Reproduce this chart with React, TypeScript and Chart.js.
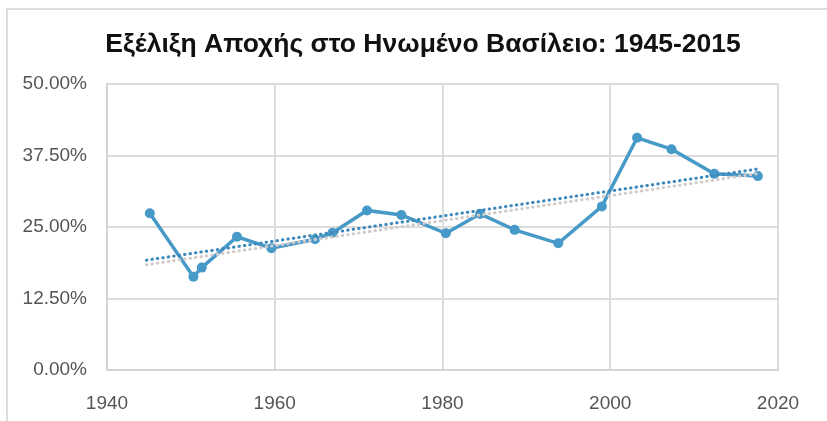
import React, { useEffect, useRef } from "react";
import { Chart, registerables } from "chart.js";

Chart.register(...registerables);

const TITLE = "Εξέλιξη Αποχής στο Ηνωμένο Βασίλειο: 1945-2015";

// x positions of the points
const pointX = [
  1945.1, 1950.3, 1951.3, 1955.5, 1959.6, 1964.8, 1966.9, 1971.0, 1975.1,
  1980.4, 1984.5, 1988.6, 1993.8, 1999.0, 2003.2, 2007.3, 2012.4, 2017.6,
];
// abstention (%)
const abstention = [
  27.4, 16.3, 17.9, 23.3, 21.3, 22.85, 24.0, 27.9, 27.1,
  23.9, 27.3, 24.5, 22.15, 28.6, 40.6, 38.6, 34.3, 33.9,
];
// trend lines: [start, end]
const trendX = [1944.7, 2017.4];
const trendBlue = [19.2, 35.1];
const trendGray = [18.4, 34.3];

const yTicks = [0, 12.5, 25, 37.5, 50];
const xTicks = [1940, 1960, 1980, 2000, 2020];

const FONT = "'Liberation Sans', Arial, Helvetica, sans-serif";

const titlePlugin = {
  id: "customTitle",
  afterDraw(chart: any) {
    const ctx = chart.ctx;
    ctx.save();
    ctx.font = `bold 26.5px ${FONT}`;
    ctx.fillStyle = "#111";
    ctx.textAlign = "center";
    ctx.textBaseline = "middle";
    ctx.fillText(TITLE, 423, 45);
    ctx.restore();
  },
};

export default function App() {
  const ref = useRef<HTMLCanvasElement | null>(null);

  useEffect(() => {
    if (!ref.current) return;
    const pts = pointX.map((x, i) => ({ x, y: abstention[i] }));
    const tb = trendX.map((x, i) => ({ x, y: trendBlue[i] }));
    const tg = trendX.map((x, i) => ({ x, y: trendGray[i] }));
    const chart = new Chart(ref.current, {
      type: "scatter",
      data: {
        datasets: [
          {
            data: tg,
            showLine: true,
            borderColor: "#d2cbcb",
            borderWidth: 3,
            borderDash: [0.5, 5],
            borderCapStyle: "round",
            pointRadius: 0,
          },
          {
            data: tb,
            showLine: true,
            borderColor: "#3d88bb",
            borderWidth: 3,
            borderDash: [0.5, 5],
            borderCapStyle: "round",
            pointRadius: 0,
          },
          {
            data: pts,
            showLine: true,
            borderColor: "#4799c8",
            backgroundColor: "#4799c8",
            borderWidth: 3.5,
            pointRadius: 5,
            pointBorderWidth: 0,
          },
        ],
      },
      plugins: [titlePlugin],
      options: {
        animation: false,
        responsive: false,
        layout: { padding: { left: 0, right: 49, top: 84, bottom: 0 } },
        plugins: {
          legend: { display: false },
          tooltip: { enabled: false },
          title: { display: false },
        },
        scales: {
          x: {
            type: "linear",
            min: 1940,
            max: 2020,
            afterFit: (s: any) => {
              s.height = 51;
            },
            afterBuildTicks: (s: any) => {
              s.ticks = xTicks.map((v) => ({ value: v }));
            },
            ticks: {
              color: "#555",
              font: { family: FONT, size: 19 },
              padding: 22,
              callback: (v: any) => String(v),
            },
            grid: { color: "#dcdcdc", lineWidth: 2, drawTicks: false },
            border: { color: "#d4d4d4", width: 2 },
          },
          y: {
            min: 0,
            max: 50,
            afterFit: (s: any) => {
              s.width = 107;
            },
            afterBuildTicks: (s: any) => {
              s.ticks = yTicks.map((v) => ({ value: v }));
            },
            ticks: {
              color: "#555",
              font: { family: FONT, size: 19 },
              padding: 20,
              callback: (v: any) => Number(v).toFixed(2) + "%",
            },
            grid: { color: "#dcdcdc", lineWidth: 2, drawTicks: false },
            border: { color: "#d4d4d4", width: 2 },
          },
        },
      },
    });
    return () => chart.destroy();
  }, []);

  return (
    <div
      style={{
        position: "fixed",
        left: 0,
        top: 0,
        width: 827,
        height: 421,
        background: "#fff",
        overflow: "hidden",
      }}
    >
      <div
        style={{
          position: "absolute",
          left: 6,
          top: 8,
          width: 900,
          height: 500,
          borderTop: "2px solid #dddddd",
          borderLeft: "2px solid #dddddd",
        }}
      />
      <canvas
        ref={ref}
        width={827}
        height={421}
        style={{ position: "absolute", left: 0, top: 0, width: 827, height: 421 }}
      />
    </div>
  );
}
